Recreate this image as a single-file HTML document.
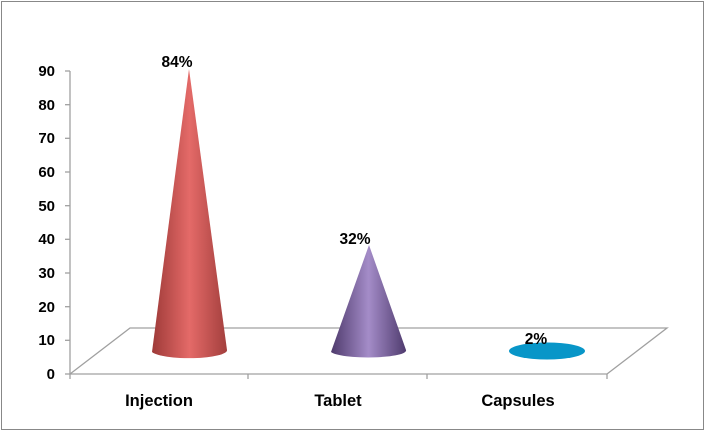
<!DOCTYPE html>
<html><head><style>body{margin:0;background:#fff}svg{display:block}</style></head><body>
<svg width="706" height="432" xmlns="http://www.w3.org/2000/svg" font-family="Liberation Sans, Arial, sans-serif" font-weight="bold">
<defs>
<linearGradient id="r" x1="0" x2="1"><stop offset="0" stop-color="#9e3a38"/><stop offset="0.5" stop-color="#e46a68"/><stop offset="1" stop-color="#a33f3d"/></linearGradient>
<linearGradient id="p" x1="0" x2="1"><stop offset="0" stop-color="#4e3a6c"/><stop offset="0.5" stop-color="#a48cc8"/><stop offset="1" stop-color="#4f3b6e"/></linearGradient>
</defs>
<rect x="1.5" y="1.5" width="702" height="428" fill="#fff" stroke="#888"/>
<g stroke="#a0a0a0" stroke-width="1.3" fill="none">
<line x1="70" y1="71" x2="70" y2="374"/>
<polyline points="70,374 130,328 667,328 607,374 70,374"/>
<line x1="70" y1="374" x2="70" y2="379"/><line x1="248" y1="374" x2="248" y2="379"/><line x1="427" y1="374" x2="427" y2="379"/><line x1="607" y1="374" x2="607" y2="379"/>
<line x1="65" y1="71" x2="70" y2="71"/><line x1="65" y1="104.7" x2="70" y2="104.7"/><line x1="65" y1="138.3" x2="70" y2="138.3"/><line x1="65" y1="172" x2="70" y2="172"/><line x1="65" y1="205.7" x2="70" y2="205.7"/><line x1="65" y1="239.3" x2="70" y2="239.3"/><line x1="65" y1="273" x2="70" y2="273"/><line x1="65" y1="306.7" x2="70" y2="306.7"/><line x1="65" y1="340.3" x2="70" y2="340.3"/><line x1="65" y1="374" x2="70" y2="374"/>
</g>
<g font-size="15" text-anchor="end" fill="#000">
<text x="55" y="76">90</text><text x="55" y="110">80</text><text x="55" y="143">70</text><text x="55" y="177">60</text><text x="55" y="211">50</text><text x="55" y="244">40</text><text x="55" y="278">30</text><text x="55" y="312">20</text><text x="55" y="345">10</text><text x="55" y="379">0</text>
</g>
<path d="M152,352 L189,69 L227,350 A38,8 0 0 1 152,352 Z" fill="url(#r)"/>
<path d="M331,352 L369,245 L406,350 A38,7 0 0 1 331,352 Z" fill="url(#p)"/>
<ellipse cx="547" cy="351" rx="38" ry="8.5" fill="#0896c8"/>
<g font-size="15.5" text-anchor="middle" fill="#000">
<text x="177" y="67">84%</text>
<text x="355" y="244">32%</text>
<text x="536" y="344">2%</text>
</g>
<g font-size="16.5" text-anchor="middle" fill="#000">
<text x="159" y="406">Injection</text>
<text x="338" y="406">Tablet</text>
<text x="518" y="406">Capsules</text>
</g>
</svg>
</body></html>
